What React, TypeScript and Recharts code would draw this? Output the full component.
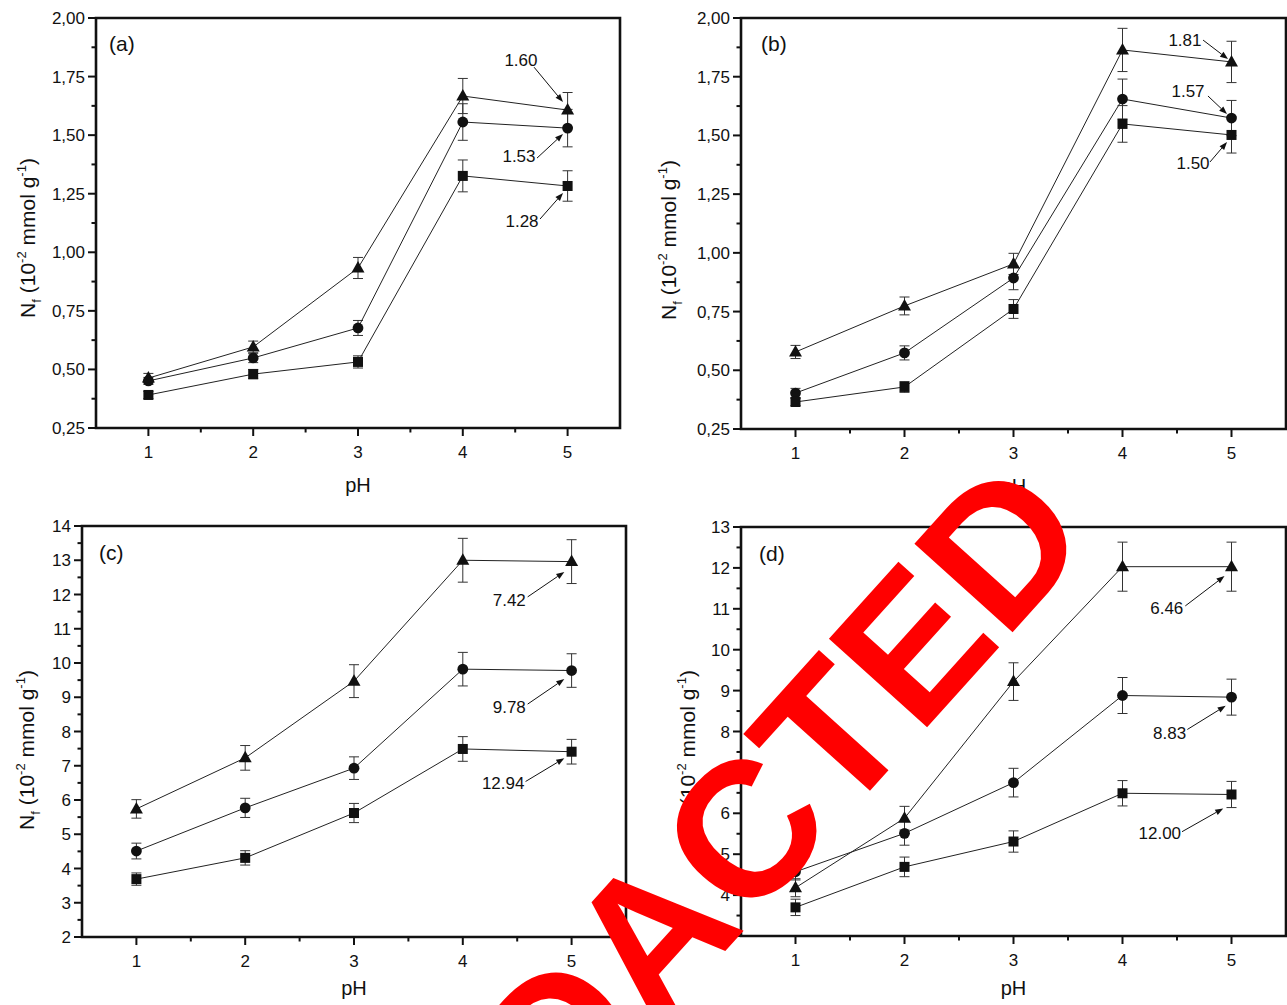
import React from "react";
import {
  ErrorBar,
  Line,
  LineChart,
  ReferenceArea,
  ReferenceDot,
  ReferenceLine,
  XAxis,
  YAxis,
} from "recharts";

const phValues = [1, 2, 3, 4, 5];
const xMajor = [1, 2, 3, 4, 5];
const xMinor = [1.5, 2.5, 3.5, 4.5];

const abYMajor = [0.25, 0.5, 0.75, 1.0, 1.25, 1.5, 1.75, 2.0];
const abYMinor = [0.375, 0.625, 0.875, 1.125, 1.375, 1.625, 1.875];
const cYMajor = [2, 3, 4, 5, 6, 7, 8, 9, 10, 11, 12, 13, 14];
const cYMinor = [2.5, 3.5, 4.5, 5.5, 6.5, 7.5, 8.5, 9.5, 10.5, 11.5, 12.5, 13.5];
const dYMajor = [3, 4, 5, 6, 7, 8, 9, 10, 11, 12, 13];
const dYMinor = [3.5, 4.5, 5.5, 6.5, 7.5, 8.5, 9.5, 10.5, 11.5, 12.5];

// panel (a)
const aTriangle = [0.463, 0.596, 0.933, 1.667, 1.607];
const aTriangleErr = [0.02, 0.025, 0.045, 0.075, 0.075];
const aCircle = [0.451, 0.549, 0.677, 1.556, 1.53];
const aCircleErr = [0.015, 0.02, 0.032, 0.078, 0.08];
const aSquare = [0.391, 0.48, 0.532, 1.326, 1.283];
const aSquareErr = [0.015, 0.02, 0.026, 0.068, 0.065];

// panel (b)
const bTriangle = [0.578, 0.774, 0.953, 1.864, 1.813];
const bTriangleErr = [0.028, 0.038, 0.045, 0.092, 0.088];
const bCircle = [0.403, 0.574, 0.893, 1.655, 1.574];
const bCircleErr = [0.02, 0.03, 0.05, 0.085, 0.075];
const bSquare = [0.365, 0.429, 0.761, 1.549, 1.502];
const bSquareErr = [0.015, 0.023, 0.04, 0.078, 0.077];

// panel (c)
const cTriangle = [5.74, 7.23, 9.47, 13.0, 12.96];
const cTriangleErr = [0.27, 0.36, 0.48, 0.64, 0.64];
const cCircle = [4.51, 5.77, 6.93, 9.82, 9.78];
const cCircleErr = [0.23, 0.28, 0.33, 0.49, 0.49];
const cSquare = [3.69, 4.31, 5.62, 7.49, 7.41];
const cSquareErr = [0.18, 0.21, 0.28, 0.36, 0.36];

// panel (d)
const dTriangle = [4.18, 5.88, 9.22, 12.03, 12.03];
const dTriangleErr = [0.22, 0.29, 0.46, 0.6, 0.6];
const dCircle = [4.57, 5.51, 6.75, 8.88, 8.84];
const dCircleErr = [0.2, 0.29, 0.35, 0.44, 0.44];
const dSquare = [3.7, 4.69, 5.31, 6.49, 6.46];
const dSquareErr = [0.2, 0.24, 0.26, 0.31, 0.32];

type Note = { text: string; tx: number; ty: number; x1: number; y1: number; x2: number; y2: number };

const aNotes: Note[] = [
  { text: "1.60", tx: 4.555, ty: 1.821, x1: 4.68, y1: 1.79, x2: 4.956, y2: 1.641 },
  { text: "1.53", tx: 4.536, ty: 1.411, x1: 4.708, y1: 1.402, x2: 4.956, y2: 1.505 },
  { text: "1.28", tx: 4.565, ty: 1.134, x1: 4.737, y1: 1.142, x2: 4.956, y2: 1.253 },
];
const bNotes: Note[] = [
  { text: "1.81", tx: 4.573, ty: 1.906, x1: 4.739, y1: 1.906, x2: 4.968, y2: 1.825 },
  { text: "1.57", tx: 4.601, ty: 1.689, x1: 4.784, y1: 1.668, x2: 4.959, y2: 1.591 },
  { text: "1.50", tx: 4.647, ty: 1.383, x1: 4.803, y1: 1.387, x2: 4.959, y2: 1.472 },
];
const cNotes: Note[] = [
  { text: "7.42", tx: 4.427, ty: 11.84, x1: 4.596, y1: 11.93, x2: 4.933, y2: 12.66 },
  { text: "9.78", tx: 4.427, ty: 8.72, x1: 4.596, y1: 8.8, x2: 4.933, y2: 9.53 },
  { text: "12.94", tx: 4.371, ty: 6.49, x1: 4.577, y1: 6.54, x2: 4.933, y2: 7.22 },
];
const dNotes: Note[] = [
  { text: "6.46", tx: 4.406, ty: 11.01, x1: 4.576, y1: 11.07, x2: 4.936, y2: 11.8 },
  { text: "8.83", tx: 4.432, ty: 7.97, x1: 4.595, y1: 8.05, x2: 4.947, y2: 8.63 },
  { text: "12.00", tx: 4.342, ty: 5.51, x1: 4.546, y1: 5.55, x2: 4.924, y2: 6.12 },
];

const FONT = '"Liberation Sans", Arial, sans-serif';
const INK = "#111";

function buildRows(tri: number[], triErr: number[], cir: number[], cirErr: number[], sq: number[], sqErr: number[]) {
  return phValues.map((ph, i) => ({
    ph,
    tri: tri[i],
    triErr: triErr[i],
    cir: cir[i],
    cirErr: cirErr[i],
    sq: sq[i],
    sqErr: sqErr[i],
  }));
}

function Triangle(p: any) {
  const { cx, cy } = p;
  if (cx == null || cy == null) return <g />;
  return <polygon points={`${cx},${cy - 7} ${cx - 6.5},${cy + 4.5} ${cx + 6.5},${cy + 4.5}`} fill={INK} />;
}
function Circle(p: any) {
  const { cx, cy } = p;
  if (cx == null || cy == null) return <g />;
  return <circle cx={cx} cy={cy} r={5.4} fill={INK} />;
}
function Square(p: any) {
  const { cx, cy } = p;
  if (cx == null || cy == null) return <g />;
  return <rect x={cx - 5} y={cy - 5} width={10} height={10} fill={INK} />;
}

function arrowShape(p: any) {
  const { x1, y1, x2, y2 } = p;
  const ang = Math.atan2(y2 - y1, x2 - x1);
  const len = 8;
  const half = 3;
  const bx = x2 - len * Math.cos(ang);
  const by = y2 - len * Math.sin(ang);
  const pts = `${x2},${y2} ${bx - half * Math.sin(ang)},${by + half * Math.cos(ang)} ${bx + half * Math.sin(ang)},${by - half * Math.cos(ang)}`;
  return (
    <g>
      <line x1={x1} y1={y1} x2={bx} y2={by} stroke={INK} strokeWidth={1} />
      <polygon points={pts} fill={INK} />
    </g>
  );
}

type PanelProps = {
  letter: string;
  left: number;
  top: number;
  width: number;
  height: number;
  plot: { left: number; top: number; right: number; bottom: number };
  yDomain: [number, number];
  yMajor: number[];
  yMinor: number[];
  decimals: number;
  rows: ReturnType<typeof buildRows>;
  notes: Note[];
  titleX: number;
  titleY: number;
  letterDx: number;
  letterDy: number;
  phDy: number;
};

function Panel(props: PanelProps) {
  const { plot, width, height, yMajor, yMinor, decimals } = props;
  const margin = {
    top: plot.top,
    left: plot.left - 40,
    right: width - plot.right,
    bottom: height - plot.bottom - 30,
  };
  const fmt = (v: number) => (decimals > 0 ? v.toFixed(decimals).replace(".", ",") : String(v));

  const yTick = (t: any) => {
    const v = t.payload.value;
    const major = yMajor.includes(v);
    return (
      <g>
        <line x1={t.x} y1={t.y} x2={t.x - (major ? 8 : 4.5)} y2={t.y} stroke={INK} strokeWidth={2} />
        {major && (
          <text x={t.x - 11} y={t.y + 6} textAnchor="end" fontSize={17} fontFamily={FONT} fill={INK}>
            {fmt(v)}
          </text>
        )}
      </g>
    );
  };
  const xTick = (t: any) => {
    const v = t.payload.value;
    const major = xMajor.includes(v);
    return (
      <g>
        <line x1={t.x} y1={t.y} x2={t.x} y2={t.y + (major ? 8 : 4.5)} stroke={INK} strokeWidth={2} />
        {major && (
          <text x={t.x} y={t.y + 30} textAnchor="middle" fontSize={17} fontFamily={FONT} fill={INK}>
            {v}
          </text>
        )}
      </g>
    );
  };

  const yTitle = () => (
    <g>
      <text
        x={props.titleX}
        y={props.titleY}
        transform={`rotate(-90 ${props.titleX} ${props.titleY})`}
        textAnchor="middle"
        fontSize={21}
        fontFamily={FONT}
        fill={INK}
      >
        <tspan>N</tspan>
        <tspan fontSize={13} dy={6}>f</tspan>
        <tspan dy={-6}> (10</tspan>
        <tspan fontSize={13} dy={-9}>-2</tspan>
        <tspan dy={9}> mmol g</tspan>
        <tspan fontSize={13} dy={-9}>-1</tspan>
        <tspan dy={9}>)</tspan>
      </text>
      <text
        x={plot.left + props.letterDx}
        y={plot.top + props.letterDy}
        fontSize={21}
        fontFamily={FONT}
        fill={INK}
      >
        ({props.letter})
      </text>
    </g>
  );
  const xTitle = () => (
    <text
      x={(plot.left + plot.right) / 2}
      y={plot.bottom + props.phDy}
      textAnchor="middle"
      fontSize={20}
      fontFamily={FONT}
      fill={INK}
    >
      pH
    </text>
  );

  const series = [
    { key: "cir", err: "cirErr", Dot: Circle },
    { key: "sq", err: "sqErr", Dot: Square },
    { key: "tri", err: "triErr", Dot: Triangle },
  ];

  return (
    <div style={{ position: "absolute", left: props.left, top: props.top }}>
      <LineChart width={width} height={height} data={props.rows} margin={margin}>
        <XAxis
          dataKey="ph"
          type="number"
          domain={[0.5, 5.5]}
          ticks={[...xMajor, ...xMinor].sort((a, b) => a - b)}
          interval={0}
          height={30}
          axisLine={false}
          tickLine={false}
          tickSize={0}
          tickMargin={0}
          tick={xTick}
          label={xTitle}
          allowDataOverflow
        />
        <YAxis
          type="number"
          domain={props.yDomain}
          ticks={[...yMajor, ...yMinor].sort((a, b) => a - b)}
          interval={0}
          width={40}
          axisLine={false}
          tickLine={false}
          tickSize={0}
          tickMargin={0}
          tick={yTick}
          label={yTitle}
          allowDataOverflow
        />
        <ReferenceArea
          x1={0.5}
          x2={5.5}
          y1={props.yDomain[0]}
          y2={props.yDomain[1]}
          fill="none"
          fillOpacity={0}
          stroke={INK}
          strokeWidth={2.6}
          ifOverflow="visible"
        />
        {series.map((s) => (
          <Line
            key={s.key}
            dataKey={s.key}
            type="linear"
            stroke="#222"
            strokeWidth={1}
            isAnimationActive={false}
            dot={(p: any) => <s.Dot key={`${s.key}-${p.index}`} cx={p.cx} cy={p.cy} />}
            activeDot={false}
          >
            <ErrorBar dataKey={s.err} width={5} stroke="#333" strokeWidth={1} direction="y" isAnimationActive={false} />
          </Line>
        ))}
        {props.notes.map((n) => (
          <ReferenceLine
            key={`l-${n.text}`}
            segment={[
              { x: n.x1, y: n.y1 },
              { x: n.x2, y: n.y2 },
            ]}
            shape={arrowShape}
          />
        ))}
        {props.notes.map((n) => (
          <ReferenceDot
            key={`t-${n.text}`}
            x={n.tx}
            y={n.ty}
            r={0}
            shape={(p: any) => (
              <text x={p.cx} y={p.cy + 6} textAnchor="middle" fontSize={17} fontFamily={FONT} fill={INK}>
                {n.text}
              </text>
            )}
          />
        ))}
      </LineChart>
    </div>
  );
}

export default function App() {
  return (
    <div style={{ position: "absolute", left: 0, top: 0, width: 1287, height: 1005, background: "#fff", overflow: "hidden" }}>
      <Panel
        letter="a"
        left={0}
        top={0}
        width={640}
        height={500}
        plot={{ left: 96, top: 18, right: 620, bottom: 428 }}
        yDomain={[0.25, 2]}
        yMajor={abYMajor}
        yMinor={abYMinor}
        decimals={2}
        rows={buildRows(aTriangle, aTriangleErr, aCircle, aCircleErr, aSquare, aSquareErr)}
        notes={aNotes}
        titleX={35}
        titleY={238}
        letterDx={13}
        letterDy={33}
        phDy={64}
      />
      <Panel
        letter="b"
        left={640}
        top={0}
        width={647}
        height={500}
        plot={{ left: 101, top: 18, right: 646, bottom: 429 }}
        yDomain={[0.25, 2]}
        yMajor={abYMajor}
        yMinor={abYMinor}
        decimals={2}
        rows={buildRows(bTriangle, bTriangleErr, bCircle, bCircleErr, bSquare, bSquareErr)}
        notes={bNotes}
        titleX={36}
        titleY={240}
        letterDx={20}
        letterDy={33}
        phDy={64}
      />
      <Panel
        letter="c"
        left={0}
        top={500}
        width={640}
        height={505}
        plot={{ left: 82, top: 26, right: 626, bottom: 437 }}
        yDomain={[2, 14]}
        yMajor={cYMajor}
        yMinor={cYMinor}
        decimals={0}
        rows={buildRows(cTriangle, cTriangleErr, cCircle, cCircleErr, cSquare, cSquareErr)}
        notes={cNotes}
        titleX={34}
        titleY={250}
        letterDx={17}
        letterDy={34}
        phDy={58}
      />
      <Panel
        letter="d"
        left={640}
        top={500}
        width={647}
        height={505}
        plot={{ left: 101, top: 27, right: 646, bottom: 436 }}
        yDomain={[3, 13]}
        yMajor={dYMajor}
        yMinor={dYMinor}
        decimals={0}
        rows={buildRows(dTriangle, dTriangleErr, dCircle, dCircleErr, dSquare, dSquareErr)}
        notes={dNotes}
        titleX={55}
        titleY={250}
        letterDx={18}
        letterDy={34}
        phDy={59}
      />
      <svg
        width={1287}
        height={1005}
        style={{ position: "absolute", left: 0, top: 0, pointerEvents: "none" }}
      >
        <text
          x={740}
          y={935}
          transform="rotate(-48 740 935)"
          textAnchor="middle"
          fontSize={192}
          fontWeight="bold"
          fontFamily={FONT}
          fill="#ff0000"
        >
          REDACTED
        </text>
      </svg>
    </div>
  );
}
